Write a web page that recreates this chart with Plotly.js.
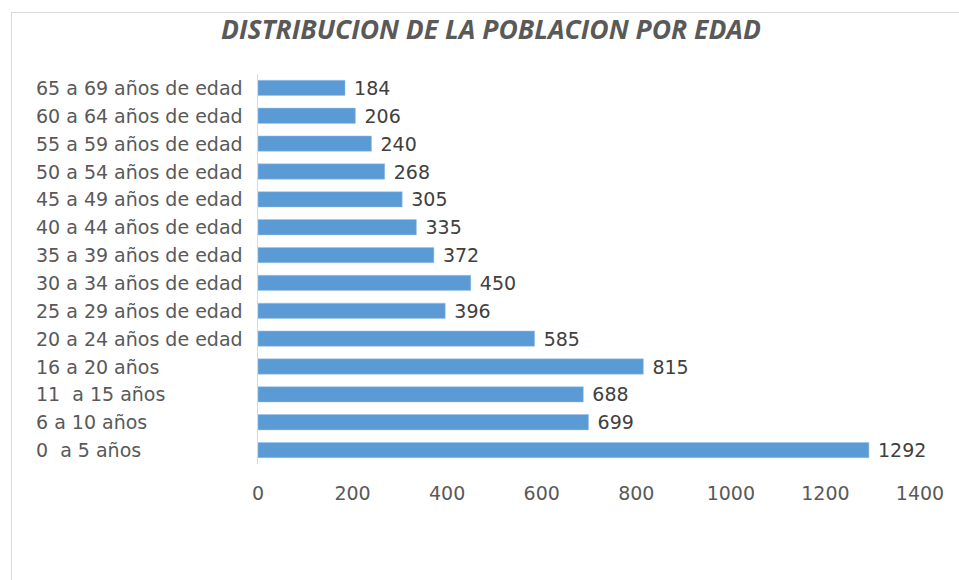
<!DOCTYPE html>
<html>
<head>
<meta charset="utf-8">
<script src="https://cdn.plot.ly/plotly-3.0.1.min.js"></script>
<style>
html,body{margin:0;padding:0;background:#fff;}
#wrap{position:relative;width:959px;height:580px;}
#chart{width:959px;height:580px;}
#frame{position:absolute;left:11px;top:12px;width:960px;height:580px;border-top:1px solid #d9d9d9;border-left:1px solid #d9d9d9;pointer-events:none;}
</style>
</head>
<body>
<div id="wrap">
<div id="chart"></div>
<div id="frame"></div>
</div>
<script>
const categories = [
  "0  a 5 años",
  "6 a 10 años",
  "11  a 15 años",
  "16 a 20 años",
  "20 a 24 años de edad",
  "25 a 29 años de edad",
  "30 a 34 años de edad",
  "35 a 39 años de edad",
  "40 a 44 años de edad",
  "45 a 49 años de edad",
  "50 a 54 años de edad",
  "55 a 59 años de edad",
  "60 a 64 años de edad",
  "65 a 69 años de edad"
];
const values = [1292, 699, 688, 815, 585, 396, 450, 372, 335, 305, 268, 240, 206, 184];
const xTicks = [0, 200, 400, 600, 800, 1000, 1200, 1400];
const titleText = "DISTRIBUCION DE LA POBLACION POR EDAD";

const font = "'DejaVu Sans', sans-serif";
const fsize = 19;

const trace = {
  type: "bar",
  orientation: "h",
  x: values,
  y: categories,
  marker: {color: "#5B9BD5", line: {color: "#9dc3e6", width: 0.5}},
  texttemplate: "\u00a0%{x}",
  textposition: "outside",
  constraintext: "none",
  cliponaxis: false,
  textfont: {family: font, size: fsize, color: "#404040"},
  hoverinfo: "none"
};

// left-aligned category labels, positioned on the category axis
const labelAnnotations = categories.map(c => ({
  text: c.replace(/  /g, "&nbsp; "),
  xref: "paper", yref: "y",
  x: -0.339, y: c,
  xanchor: "left", yanchor: "middle",
  showarrow: false,
  font: {family: font, size: fsize, color: "#595959"}
}));

const layout = {
  width: 959,
  height: 580,
  margin: {l: 258, r: 39, t: 74, b: 116},
  paper_bgcolor: "#fff",
  plot_bgcolor: "#fff",
  showlegend: false,
  bargap: 0.45,
  title: {
    text: "<b><i>" + titleText + "</i></b>",
    font: {family: "'Open Sans', sans-serif", size: 26.5, color: "#595959"},
    x: 0.512, xanchor: "center",
    y: 0.948, yanchor: "middle"
  },
  annotations: labelAnnotations,
  xaxis: {
    range: [0, 1400],
    tickvals: xTicks,
    ticktext: xTicks.map(String),
    showgrid: false,
    zeroline: false,
    showline: false,
    ticks: "",
    ticklabelstandoff: 16,
    tickfont: {family: font, size: fsize, color: "#595959"},
    fixedrange: true
  },
  yaxis: {
    type: "category",
    categoryorder: "array",
    categoryarray: categories,
    showgrid: false,
    zeroline: false,
    showline: true,
    linecolor: "#d9d9d9",
    linewidth: 1,
    ticks: "",
    showticklabels: false,
    fixedrange: true
  }
};

Plotly.newPlot("chart", [trace], layout, {displayModeBar: false, staticPlot: true});
</script>
</body>
</html>
